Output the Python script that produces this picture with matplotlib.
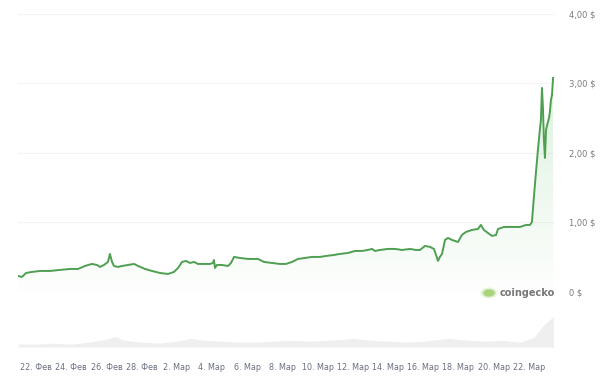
import numpy as np
import matplotlib.pyplot as plt
from matplotlib.patches import Circle

# price history, day 0 = 22 Feb
days = [-1.02, -0.80, -0.57, -0.23, 0.23, 0.80, 1.36, 1.93, 2.39, 2.78, 3.18, 3.47,
        3.64, 3.86, 4.09, 4.20, 4.32, 4.43, 4.66, 4.89, 5.23, 5.57, 5.80, 6.19,
        6.59, 7.05, 7.50, 7.84, 8.07, 8.30, 8.52, 8.75, 8.98, 9.20, 9.60, 9.89,
        10.06, 10.11, 10.17, 10.28, 10.57, 10.91, 11.08, 11.25, 11.59, 12.05, 12.61,
        12.95, 13.41, 13.86, 14.20, 14.55, 14.89, 15.28, 15.68, 16.14, 16.48, 16.93,
        17.27, 17.73, 18.13, 18.52, 18.86, 19.09, 19.26, 19.55, 20.00, 20.40, 20.80,
        21.25, 21.59, 21.82, 22.10, 22.39, 22.61, 22.73, 22.84, 22.95, 23.07, 23.24,
        23.41, 23.64, 23.98, 24.20, 24.43, 24.77, 25.11, 25.28, 25.45, 25.68, 25.91,
        26.14, 26.25, 26.59, 27.05, 27.50, 27.84, 28.07, 28.18, 28.30, 28.41, 28.52,
        28.64, 28.69, 28.75, 28.81, 28.86, 28.92, 28.98, 29.03, 29.15, 29.20, 29.26,
        29.32, 29.38]
prices = [0.230, 0.216, 0.273, 0.288, 0.302, 0.302, 0.317, 0.331, 0.331, 0.374, 0.403, 0.388,
          0.360, 0.388, 0.432, 0.547, 0.432, 0.374, 0.360, 0.374, 0.388, 0.403, 0.374, 0.331,
          0.302, 0.273, 0.259, 0.288, 0.345, 0.432, 0.446, 0.417, 0.432, 0.403, 0.403, 0.403,
          0.417, 0.460, 0.345, 0.388, 0.388, 0.374, 0.417, 0.504, 0.489, 0.475, 0.475,
          0.432, 0.417, 0.403, 0.403, 0.432, 0.475, 0.489, 0.504, 0.504, 0.518, 0.532,
          0.547, 0.561, 0.590, 0.590, 0.604, 0.619, 0.590, 0.604, 0.619, 0.619, 0.604,
          0.619, 0.604, 0.604, 0.662, 0.648, 0.619, 0.532, 0.446, 0.504, 0.547, 0.748,
          0.777, 0.748, 0.719, 0.820, 0.863, 0.892, 0.906, 0.964, 0.892, 0.849, 0.806,
          0.820, 0.906, 0.935, 0.935, 0.935, 0.964, 0.964, 1.007, 1.396, 1.727, 2.043,
          2.360, 2.475, 2.935, 2.619, 2.187, 1.928, 2.331, 2.388, 2.504, 2.590, 2.763,
          2.835, 3.079]

# trading volume (faint strip under the chart)
vol_days = [-1.0, 0.0, 1.0, 2.0, 3.0, 4.0, 4.5, 5.0, 6.0, 7.0, 8.0, 8.8, 9.5, 10.5,
            11.5, 12.5, 13.5, 14.5, 15.5, 16.5, 17.5, 18.0, 19.0, 20.0, 21.0, 22.0,
            23.0, 23.5, 24.5, 25.5, 26.5, 27.5, 28.3, 28.8, 29.4]
volumes = [3, 3, 4, 3, 5, 8, 11, 7, 5, 4, 6, 9, 7, 6, 5, 5, 6, 7, 6, 7, 8, 9, 7, 6,
           5, 6, 8, 9, 7, 6, 7, 5, 10, 22, 32]

tick_days = [0, 2, 4, 6, 8, 10, 12, 14, 16, 18, 20, 22, 24, 26, 28]
tick_labels = ['22. Фев', '24. Фев', '26. Фев', '28. Фев', '2. Мар', '4. Мар',
               '6. Мар', '8. Мар', '10. Мар', '12. Мар', '14. Мар', '16. Мар',
               '18. Мар', '20. Мар', '22. Мар']
y_ticks = [0, 1, 2, 3, 4]
y_labels = ['0 $', '1,00 $', '2,00 $', '3,00 $', '4,00 $']

W, H = 600, 378
fig = plt.figure(figsize=(6, 3.78), dpi=100)
fig.patch.set_facecolor('white')

# volume strip (drawn first, behind the price axes)
vax = fig.add_axes([18 / W, 1 - 347 / H, 537 / W, 50 / H])
vax.set_xlim(-1.023, 29.49)
vax.set_ylim(0, 52)
vax.fill_between(vol_days, volumes, 0, color='#efefef', linewidth=0)
vax.axis('off')

# main price axes
ax = fig.add_axes([18 / W, 1 - 350 / H, 537 / W, 350 / H])
ax.set_facecolor('none')
ax.set_xlim(-1.023, 29.49)
ax.set_ylim(-0.835, 4.20)
for s in ax.spines.values():
    s.set_visible(False)

for yv in y_ticks[1:]:
    ax.axhline(yv, color='#f4f4f4', linewidth=0.8, zorder=0)

line_color = '#4e9f52'

# gradient fill under the line
grad = np.linspace(0, 1, 256).reshape(-1, 1)
cmap_rgba = np.zeros((256, 1, 4))
cmap_rgba[..., 0] = 0.30
cmap_rgba[..., 1] = 0.70
cmap_rgba[..., 2] = 0.32
cmap_rgba[..., 3] = 0.01 + 0.18 * grad
img = ax.imshow(cmap_rgba, extent=[-1.023, 29.49, 0, 3.1], origin='lower',
                aspect='auto', zorder=1)
fill = ax.fill_between(days, prices, 0, color='none')
clip = fill.get_paths()[0]
img.set_clip_path(clip, transform=ax.transData)

ax.plot(days, prices, color=line_color, linewidth=1.4, zorder=3,
        solid_joinstyle='round')

ax.set_xticks(tick_days)
ax.set_xticklabels(tick_labels)
ax.set_yticks(y_ticks)
ax.set_yticklabels(y_labels)
ax.yaxis.tick_right()
ax.tick_params(axis='x', length=0, pad=9, labelsize=5.8, colors='#6b6f80')
ax.tick_params(axis='y', length=0, pad=10, labelsize=6.0, colors='#7a7a7a')

# coingecko watermark
for r, a in [(9, 0.12), (7, 0.3), (5.5, 0.6)]:
    fig.patches.append(Circle((489 / W, 1 - 293 / H), r / W, transform=fig.transFigure,
                              color='#8cc751', alpha=a, linewidth=0))
fig.text(500 / W, 1 - 293 / H, 'coingecko', fontsize=7, color='#777777',
         va='center', ha='left', fontweight='semibold')

plt.savefig('out.png', dpi=100)
plt.close()
